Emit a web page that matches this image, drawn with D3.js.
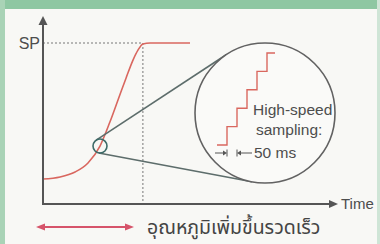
<!DOCTYPE html>
<html>
<head>
<meta charset="utf-8">
<title>High-speed sampling</title>
<script src="https://cdn.jsdelivr.net/npm/d3@7"></script>
<style>
  body{margin:0;background:#f6f7f3;}
  svg{display:block;}
  text{font-family:"Liberation Sans",Arial,sans-serif;fill:#4d4d4d;}
  .thai{font-family:"Noto Sans Thai","Noto Serif Thai","Loma","Garuda","Norasi","Tlwg Typo",sans-serif;}
</style>
</head>
<body>
<div id="chart"></div>
<script>
// rise of the process value toward the set point (time in %, value in % of SP)
var riseTime  = [0, 5.7, 10.7, 15, 19, 22.3, 25, 27.7, 30, 31.7, 33.3, 35.7, 49];
var riseValue = [15.5, 16.8, 19.9, 25.5, 36, 50.9, 64.6, 78.3, 89.4, 95.7, 99.4, 100, 100];
var spValue = 100, spTime = 33.3;
var zoomTime = 19, zoomValue = 36;

// magnified view: sampled value, one step each 50 ms
var sampleMs    = [-50, 0, 50, 100, 150, 200, 240];
var sampleLevel = [0, 1, 2, 3, 4, 5, 5];

var spLabel = "SP", timeLabel = "Time";
var insetLines = ["High-speed", "sampling:"];
var periodLabel = "50 ms";
var thaiLabel = "อุณหภูมิเพิ่มขึ้นรวดเร็ว";

var W = 380, H = 244;
var svg = d3.select("#chart").append("svg").attr("width", W).attr("height", H);

// frame
svg.append("rect").attr("width", W).attr("height", H).attr("fill", "#f8f8f5");
svg.append("rect").attr("width", W).attr("height", 9).attr("fill", "#8ec7a2");
svg.append("rect").attr("width", 5).attr("height", H).attr("fill", "#a9d3b6");
svg.append("rect").attr("x", W-3).attr("width", 3).attr("height", H).attr("fill", "#cfe5d6");

var x = d3.scaleLinear().domain([0, 100]).range([43, 343]);
var y = d3.scaleLinear().domain([0, 100]).range([204, 43]);

// SP dashed guides
svg.append("line").attr("x1", x(0)).attr("x2", x(spTime)).attr("y1", y(spValue)).attr("y2", y(spValue))
  .attr("stroke", "#777").attr("stroke-width", 1).attr("stroke-dasharray", "2,2");
svg.append("line").attr("x1", x(spTime)).attr("x2", x(spTime)).attr("y1", y(spValue)).attr("y2", y(0))
  .attr("stroke", "#777").attr("stroke-width", 1).attr("stroke-dasharray", "2,2");

// SP tick label
var yAxis = d3.axisLeft(y).tickValues([spValue]).tickFormat(function(){ return spLabel; }).tickSize(0).tickPadding(3);
var yg = svg.append("g").attr("transform", "translate(" + x(0) + ",0)").call(yAxis);
yg.select(".domain").remove();
yg.selectAll("text").attr("font-size", 16).attr("fill", "#4d4d4d")
  .style("font-family", "'Liberation Sans',Arial,sans-serif");

// red rise curve
var pts = riseTime.map(function(t, i){ return [t, riseValue[i]]; });
svg.append("path").datum(pts)
  .attr("d", d3.line().x(function(d){ return x(d[0]); }).y(function(d){ return y(d[1]); }).curve(d3.curveMonotoneX))
  .attr("fill", "none").attr("stroke", "#d9675f").attr("stroke-width", 1.6);

// magnifier
var c1 = [x(zoomTime), y(zoomValue)], r1 = 7;
var c2 = [265, 113], r2 = 70;
var dx = c2[0]-c1[0], dy = c2[1]-c1[1], d = Math.hypot(dx, dy);
var base = Math.atan2(dy, dx), th = Math.acos((r1 - r2) / d);
[base + th, base - th].forEach(function(a){
  svg.append("line")
    .attr("x1", c1[0] + r1*Math.cos(a)).attr("y1", c1[1] + r1*Math.sin(a))
    .attr("x2", c2[0] + r2*Math.cos(a)).attr("y2", c2[1] + r2*Math.sin(a))
    .attr("stroke", "#5d6d6b").attr("stroke-width", 1.6);
});
svg.append("circle").attr("cx", c1[0]).attr("cy", c1[1]).attr("r", r1)
  .attr("fill", "none").attr("stroke", "#3d6b68").attr("stroke-width", 1.6);
svg.append("circle").attr("cx", c2[0]).attr("cy", c2[1]).attr("r", r2)
  .attr("fill", "#fafaf8").attr("stroke", "#626262").attr("stroke-width", 1.6);

svg.append("clipPath").attr("id", "lens").append("circle")
  .attr("cx", c2[0]).attr("cy", c2[1]).attr("r", r2 - 1);

var xs = d3.scaleLinear().domain([0, 250]).range([227, 277]);
var ys = d3.scaleLinear().domain([0, 5]).range([145, 53]);
var steps = sampleMs.map(function(t, i){ return [t, sampleLevel[i]]; });
svg.append("path").datum(steps).attr("clip-path", "url(#lens)")
  .attr("d", d3.line().x(function(d){ return xs(d[0]); }).y(function(d){ return ys(d[1]); }).curve(d3.curveStepAfter))
  .attr("fill", "none").attr("stroke", "#d9675f").attr("stroke-width", 1.4);

insetLines.forEach(function(s, i){
  svg.append("text").attr("x", 253 + i*3).attr("y", 115 + i*20).attr("font-size", 15.5).text(s);
});

// 50 ms period marker
var my = 153, gray = "#555";
var bx0 = xs(0), bx1 = xs(50);
svg.append("g").attr("clip-path", "url(#lens)").call(function(g){
  g.append("line").attr("x1", bx0 - 12).attr("x2", bx0 - 3).attr("y1", my).attr("y2", my).attr("stroke", gray);
  g.append("path").attr("d", "M" + bx0 + "," + my + "l-4,-2.5v5z").attr("fill", gray);
  g.append("line").attr("x1", bx0).attr("x2", bx0).attr("y1", my-3.5).attr("y2", my+3.5).attr("stroke", gray);
  g.append("line").attr("x1", bx1).attr("x2", bx1).attr("y1", my-3.5).attr("y2", my+3.5).attr("stroke", gray);
  g.append("path").attr("d", "M" + bx1 + "," + my + "l4,-2.5v5z").attr("fill", gray);
  g.append("line").attr("x1", bx1 + 3).attr("x2", bx1 + 15).attr("y1", my).attr("y2", my).attr("stroke", gray);
});
svg.append("text").attr("x", bx1 + 17).attr("y", my + 5).attr("font-size", 15.5).text(periodLabel);

// axes with arrows
var ax = "#555";
svg.append("line").attr("x1", x(0)).attr("x2", x(0)).attr("y1", y(0)).attr("y2", 24)
  .attr("stroke", ax).attr("stroke-width", 2);
svg.append("path").attr("d", "M" + x(0) + ",16l-4.5,9h9z").attr("fill", ax);
svg.append("line").attr("x1", x(0) - 1).attr("x2", 330).attr("y1", y(0)).attr("y2", y(0))
  .attr("stroke", ax).attr("stroke-width", 2);
svg.append("path").attr("d", "M338," + y(0) + "l-9,-4v8z").attr("fill", ax);
svg.append("text").attr("x", 341).attr("y", y(0) + 5).attr("font-size", 15).text(timeLabel);

// red double arrow under the rise
var ry = 227, red = "#d6546a";
svg.append("line").attr("x1", 42).attr("x2", 128).attr("y1", ry).attr("y2", ry)
  .attr("stroke", red).attr("stroke-width", 2);
svg.append("path").attr("d", "M36," + ry + "l9,-3.5v7z").attr("fill", red);
svg.append("path").attr("d", "M134," + ry + "l-9,-3.5v7z").attr("fill", red);

svg.append("text").attr("class", "thai").attr("x", 147).attr("y", 234).attr("font-size", 19.5)
  .style("fill", "#444").text(thaiLabel);
</script>
</body>
</html>
